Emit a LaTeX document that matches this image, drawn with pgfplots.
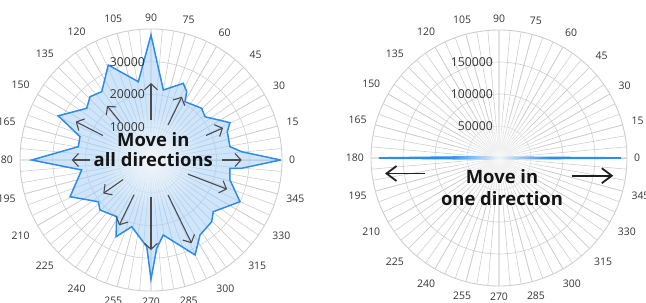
\documentclass[border=0pt]{standalone}
\usepackage{pgfplots}
\pgfplotsset{compat=1.18}
\usepgfplotslibrary{polar}
\usetikzlibrary{arrows.meta,fadings}
\usepackage{fontspec}
\setmainfont{Open Sans}
\definecolor{gridgray}{RGB}{206,206,206}
\definecolor{labgray}{RGB}{52,52,52}
\definecolor{lineblue}{RGB}{45,140,235}
\definecolor{fillblue}{RGB}{165,208,248}
\definecolor{arrowgray}{RGB}{80,75,75}
\tikzfading[name=glow, inner color=transparent!0, outer color=transparent!100]
\tikzset{
  rlab/.style={anchor=east, xshift=-2.5bp, font=\fontsize{12.3}{12}\selectfont, text=labgray},
  garrow/.style={draw=arrowgray, line width=1.1bp, -{Straight Barb[length=6bp,width=13bp]}},
}
\pgfplotsset{
  myp/.style={
    scale only axis, anchor=center,
    ymin=0,
    xtick={0,15,...,345},
    minor xtick={0,5,...,355},
    grid=both,
    major grid style={draw=gridgray, line width=0.6bp},
    minor grid style={draw=gridgray, line width=0.6bp},
    axis line style={draw=gridgray, line width=0.9bp},
    major tick length=0pt, minor tick length=0pt,
    yticklabels={},
    scaled y ticks=false,
    /pgf/number format/assume math mode=true,
    xticklabel style={font=\fontsize{10.5}{11}\selectfont, text=labgray, inner sep=7bp},
  },
}
\begin{document}
\begin{tikzpicture}
% ---------- left: all directions ----------
\begin{polaraxis}[myp, at={(151bp,143bp)}, width=262bp, height=262bp,
  ymax=40000, ytick={10000,20000,30000}]
\addplot[draw=lineblue, line width=1.5bp, fill=fillblue, fill opacity=0.55] coordinates {
(0,39600) (5.2,27810) (9.6,24460) (20.4,24850) (25.3,26670) (38.7,21130)
(45.6,22110) (59.8,20610) (62.4,23530) (67.2,25410) (80.0,21700) (90,38170)
(99.2,24220) (114.2,31800) (125.8,25720) (133.9,26840) (141.2,25190)
(154.5,31370) (161.8,22820) (169.6,22570) (180,36430) (188.2,21380)
(204.4,27150) (218.4,20520) (224.4,21810) (238.8,20230) (245.5,25740)
(253.9,21200) (267.2,26510) (270,36430) (273.7,27020) (279.3,23210)
(294.9,31970) (303.2,27350) (314.5,26430) (320.3,24720) (334.9,30010)
(345.8,24880) (354.0,24250) (354.8,27810) (360,39600)
};
\fill[white, path fading=glow, opacity=0.9] (axis cs:0,0) circle[radius=50bp];
\node[rlab] at (axis cs:90,10000) {10000};
\node[rlab] at (axis cs:90,20000) {20000};
\node[rlab] at (axis cs:90,30000) {30000};
\draw[garrow] (axis cs:90,12200) -- (axis cs:90,23500);
\draw[garrow] (axis cs:64,11900) -- (axis cs:64,21500);
\draw[garrow] (axis cs:24,18400) -- (axis cs:24,24100);
\draw[garrow] (axis cs:0,21600) -- (axis cs:0,27700);
\draw[garrow] (axis cs:339,12100) -- (axis cs:339,24900);
\draw[garrow] (axis cs:296,11900) -- (axis cs:296,28300);
\draw[garrow] (axis cs:270,11200) -- (axis cs:270,27500);
\draw[garrow] (axis cs:244,11800) -- (axis cs:244,22200);
\draw[garrow] (axis cs:215,10400) -- (axis cs:215,17800);
\draw[garrow] (axis cs:180,18600) -- (axis cs:180,24200);
\draw[garrow] (axis cs:153,16500) -- (axis cs:153,25800);
\draw[garrow] (axis cs:129,15000) -- (axis cs:129,21300);
\end{polaraxis}
% ---------- right: one direction ----------
\begin{polaraxis}[myp, at={(499bp,145bp)}, width=256bp, height=256bp,
  ymax=200000, ytick={50000,100000,150000}]
\addplot[draw=lineblue, line width=1.8bp, fill=fillblue, fill opacity=0.55] coordinates {
(0,190600) (5,14000) (15,2000) (30,1500) (45,1200) (60,1000) (75,1000) (90,1200)
(105,1000) (120,1000) (135,1200) (150,1500) (165,3000) (175,22000) (180,187500)
(185,16000) (195,3000) (210,1500) (225,1200) (240,1000) (255,1000) (270,1200)
(285,1000) (300,1000) (315,1200) (330,1500) (345,2500) (355,12000) (360,190600)
};
\fill[white, path fading=glow, opacity=0.9] (axis cs:0,0) circle[radius=50bp];
\node[rlab] at (axis cs:90,50000) {50000};
\node[rlab] at (axis cs:90,100000) {100000};
\node[rlab] at (axis cs:90,150000) {150000};
\end{polaraxis}
% ---------- annotations ----------
\node[font=\bfseries\fontsize{18.5}{20}\selectfont, align=center, text=black!92] at (153.3bp,153bp) {Move in\\all directions};
\node[font=\bfseries\fontsize{18.5}{21.5}\selectfont, align=center, text=black!92] at (502bp,115.5bp) {Move in\\one direction};
\draw[black!88, line width=1.8bp, -{Straight Barb[length=10bp,width=15bp]}] (425bp,129.5bp) -- (385bp,129.5bp);
\draw[black!88, line width=1.8bp, -{Straight Barb[length=10bp,width=15bp]}] (571.7bp,127.3bp) -- (613.3bp,127.3bp);
\pgfresetboundingbox
\useasboundingbox (0,0) rectangle (646bp,303bp);
\end{tikzpicture}
\end{document}
